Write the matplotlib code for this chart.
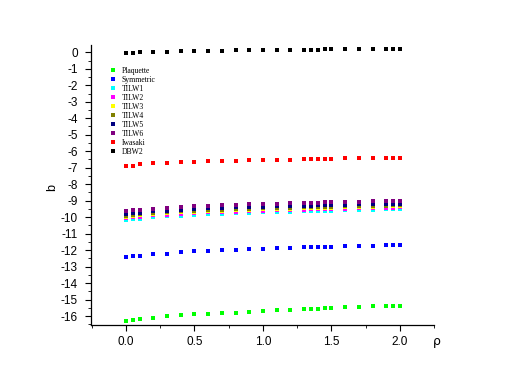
import matplotlib
matplotlib.use("Agg")
import matplotlib.pyplot as plt
from matplotlib.ticker import MultipleLocator

rho = [0.0, 0.05, 0.1, 0.2, 0.3, 0.4, 0.5, 0.6, 0.7, 0.8, 0.9, 1.0, 1.1, 1.2,
       1.3, 1.35, 1.4, 1.45, 1.5, 1.6, 1.7, 1.8, 1.9, 1.95, 2.0]

plaquette = [-16.28, -16.22, -16.18, -16.08, -16.00, -15.94, -15.88, -15.85, -15.82,
             -15.78, -15.74, -15.70, -15.65, -15.63, -15.59, -15.57, -15.55, -15.52,
             -15.51, -15.47, -15.45, -15.41, -15.40, -15.37, -15.36]
symmetric = [-12.42, -12.38, -12.34, -12.26, -12.20, -12.13, -12.07, -12.05, -12.01,
             -11.97, -11.95, -11.91, -11.89, -11.85, -11.83, -11.82, -11.81, -11.80,
             -11.79, -11.77, -11.75, -11.73, -11.71, -11.69, -11.67]
tilw1 = [-10.16, -10.12, -10.08, -10.00, -9.95, -9.90, -9.86, -9.82, -9.79, -9.76,
         -9.74, -9.71, -9.69, -9.66, -9.64, -9.63, -9.62, -9.61, -9.60, -9.58,
         -9.56, -9.55, -9.53, -9.52, -9.51]
tilw2 = [-10.04, -10.00, -9.96, -9.89, -9.84, -9.79, -9.75, -9.71, -9.68, -9.66,
         -9.63, -9.61, -9.58, -9.56, -9.54, -9.53, -9.52, -9.51, -9.50, -9.48,
         -9.46, -9.45, -9.43, -9.42, -9.41]
tilw3 = [-9.96, -9.92, -9.88, -9.81, -9.76, -9.71, -9.67, -9.63, -9.60, -9.58,
         -9.55, -9.53, -9.50, -9.48, -9.46, -9.45, -9.44, -9.43, -9.42, -9.40,
         -9.38, -9.37, -9.35, -9.34, -9.33]
tilw4 = [-9.90, -9.86, -9.82, -9.75, -9.70, -9.65, -9.61, -9.57, -9.54, -9.51,
         -9.49, -9.46, -9.44, -9.42, -9.40, -9.39, -9.38, -9.37, -9.36, -9.34,
         -9.32, -9.30, -9.29, -9.28, -9.27]
tilw5 = [-9.80, -9.76, -9.72, -9.65, -9.60, -9.55, -9.51, -9.47, -9.44, -9.41,
         -9.39, -9.36, -9.34, -9.32, -9.30, -9.29, -9.28, -9.27, -9.26, -9.24,
         -9.22, -9.21, -9.20, -9.19, -9.18]
tilw6 = [-9.63, -9.59, -9.55, -9.48, -9.43, -9.38, -9.34, -9.30, -9.27, -9.24,
         -9.22, -9.19, -9.17, -9.15, -9.13, -9.12, -9.11, -9.10, -9.09, -9.07,
         -9.05, -9.04, -9.02, -9.01, -9.00]
iwasaki = [-6.91, -6.87, -6.80, -6.74, -6.69, -6.65, -6.63, -6.60, -6.58, -6.57,
           -6.55, -6.53, -6.51, -6.51, -6.48, -6.47, -6.47, -6.46, -6.46, -6.44,
           -6.43, -6.42, -6.41, -6.40, -6.40]
dbw2 = [-0.05, -0.03, -0.01, 0.02, 0.04, 0.06, 0.07, 0.09, 0.10, 0.11, 0.12, 0.13,
        0.14, 0.15, 0.16, 0.16, 0.16, 0.17, 0.17, 0.18, 0.18, 0.19, 0.19, 0.20, 0.20]

names = ["Plaquette", "Symmetric", "TILW1", "TILW2", "TILW3", "TILW4", "TILW5",
         "TILW6", "Iwasaki", "DBW2"]
series = [plaquette, symmetric, tilw1, tilw2, tilw3, tilw4, tilw5, tilw6, iwasaki, dbw2]
colors = ["#00ff00", "#0000ff", "#00ffff", "#ff00ff", "#ffff00", "#808000",
          "#000080", "#800080", "#ff0000", "#000000"]

fig = plt.figure(figsize=(5.05, 3.9), dpi=100)
ax = fig.add_axes([0.180, 0.166, 0.680, 0.719])

for name, vals, c in zip(names, series, colors):
    ax.plot(rho, vals, linestyle="none", marker="s", markersize=2.9,
            color=c, markeredgewidth=0, label=name)

ax.set_xlim(-0.255, 2.25)
ax.set_ylim(-16.55, 0.45)
ax.xaxis.set_minor_locator(MultipleLocator(0.25))
ax.yaxis.set_minor_locator(MultipleLocator(0.5))
ax.set_yticks(list(range(-16, 1)))
ax.set_yticklabels([str(v) for v in range(-16, 1)])
ax.set_xticks([0.0, 0.5, 1.0, 1.5, 2.0])
ax.set_xticklabels(["0.0", "0.5", "1.0", "1.5", "2.0"])

for s in ["top", "right"]:
    ax.spines[s].set_visible(False)
for s in ["left", "bottom"]:
    ax.spines[s].set_linewidth(0.9)

ax.tick_params(axis="both", which="major", direction="out", length=4, width=0.8,
               labelsize=8.5)
ax.tick_params(axis="y", which="major", pad=5.5)
ax.tick_params(axis="x", which="major", pad=3.5)
ax.tick_params(axis="both", which="minor", direction="out", length=2, width=0.6)
for lab in ax.get_xticklabels() + ax.get_yticklabels():
    lab.set_fontfamily("Liberation Sans")

ax.set_ylabel("b", fontsize=9, family="Liberation Sans")
ax.yaxis.set_label_coords(-0.095, 0.49)
ax.text(0.995, -0.035, "ρ", transform=ax.transAxes, fontsize=9,
        family="DejaVu Sans", ha="left", va="top")

leg = ax.legend(loc="upper left", bbox_to_anchor=(0.05, 0.932), frameon=False,
                prop={"family": "Liberation Serif", "size": 5.5},
                handlelength=0.6, handletextpad=0.8, labelspacing=0.13,
                markerscale=1.0, borderaxespad=0)

fig.savefig("out.png", dpi=100)
